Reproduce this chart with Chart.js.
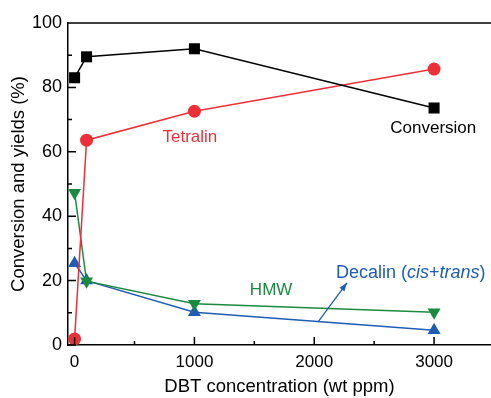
<!DOCTYPE html>
<html>
<head>
<meta charset="utf-8">
<script src="https://cdn.jsdelivr.net/npm/chart.js@4.4.0/dist/chart.umd.min.js"></script>
<style>
  html, body { margin: 0; padding: 0; background: #fff; }
  #wrap { width: 491px; height: 398px; }
</style>
</head>
<body>
<div id="wrap"><canvas id="grafico" width="491" height="398"></canvas></div>
<script>
  // datos
  const dbtPpm = [0, 100, 1000, 3000];
  const conversion = [83, 89.5, 92, 73.6];
  const tetralin = [1.9, 63.6, 72.6, 85.7];
  const hmw = [47.3, 19.8, 12.8, 10.2];
  const decalin = [25.4, 20.0, 10.2, 4.6];
  const xTicks = [0, 1000, 2000, 3000];
  const xMinor = [500, 1500, 2500];
  const yTicks = [0, 20, 40, 60, 80, 100];
  const yMinor = [10, 30, 50, 70, 90];

  const NEGRO = '#000000';
  const ROJO = '#ec3038';
  const VERDE = '#1c8a3e';
  const AZUL = '#1f5db3';
  const FUENTE = '"Liberation Sans", Arial, sans-serif';

  function serie(label, ys, color, estilo, radio, rot) {
    return {
      label: label,
      data: dbtPpm.map((x, i) => ({ x: x, y: ys[i] })),
      showLine: true,
      borderColor: color,
      backgroundColor: color,
      borderWidth: 1.5,
      pointStyle: estilo,
      pointRadius: radio,
      pointRotation: rot || 0,
      pointBorderWidth: 0,
      pointBackgroundColor: color
    };
  }

  // marcas hacia adentro, borde superior y anotaciones
  const extras = {
    id: 'extras',
    afterDraw(chart) {
      const ctx = chart.ctx;
      const a = chart.chartArea;
      const sx = chart.scales.x, sy = chart.scales.y;
      ctx.save();
      ctx.strokeStyle = '#000';
      ctx.lineWidth = 1.5;
      ctx.beginPath();
      ctx.moveTo(a.left, a.top);
      ctx.lineTo(chart.width, a.top);
      xTicks.forEach(v => { const p = sx.getPixelForValue(v); ctx.moveTo(p, a.bottom); ctx.lineTo(p, a.bottom - 8); });
      xMinor.forEach(v => { const p = sx.getPixelForValue(v); ctx.moveTo(p, a.bottom); ctx.lineTo(p, a.bottom - 4); });
      yTicks.forEach(v => { const p = sy.getPixelForValue(v); ctx.moveTo(a.left, p); ctx.lineTo(a.left + 8, p); });
      yMinor.forEach(v => { const p = sy.getPixelForValue(v); ctx.moveTo(a.left, p); ctx.lineTo(a.left + 4, p); });
      ctx.stroke();

      ctx.font = '17px ' + FUENTE;
      ctx.textBaseline = 'middle';
      ctx.textAlign = 'center';
      ctx.fillStyle = ROJO;
      ctx.fillText('Tetralin', sx.getPixelForValue(962), sy.getPixelForValue(64.6));
      ctx.fillStyle = NEGRO;
      ctx.fillText('Conversion', sx.getPixelForValue(2993), sy.getPixelForValue(67.4));
      ctx.fillStyle = VERDE;
      ctx.fillText('HMW', sx.getPixelForValue(1640), sy.getPixelForValue(17));

      // Decalin (cis+trans)
      ctx.fillStyle = AZUL;
      ctx.textAlign = 'left';
      let px = sx.getPixelForValue(2181);
      const py = sy.getPixelForValue(22.5);
      const partes = [['Decalin (', false], ['cis', true], ['+', false], ['trans', true], [')', false]];
      partes.forEach(([t, it]) => {
        ctx.font = (it ? 'italic ' : '') + '18px ' + FUENTE;
        ctx.fillText(t, px, py);
        px += ctx.measureText(t).width;
      });

      // flecha
      const x0 = sx.getPixelForValue(2032), y0 = sy.getPixelForValue(7.2);
      const x1 = sx.getPixelForValue(2273), y1 = sy.getPixelForValue(19.3);
      ctx.strokeStyle = AZUL;
      ctx.lineWidth = 1.3;
      ctx.beginPath();
      ctx.moveTo(x0, y0);
      ctx.lineTo(x1, y1);
      ctx.stroke();
      const ang = Math.atan2(y1 - y0, x1 - x0);
      ctx.beginPath();
      ctx.moveTo(x1, y1);
      ctx.lineTo(x1 - 9 * Math.cos(ang - 0.35), y1 - 9 * Math.sin(ang - 0.35));
      ctx.lineTo(x1 - 9 * Math.cos(ang + 0.35), y1 - 9 * Math.sin(ang + 0.35));
      ctx.closePath();
      ctx.fill();
      ctx.restore();
    }
  };

  new Chart(document.getElementById('grafico').getContext('2d'), {
    type: 'scatter',
    data: {
      datasets: [
        serie('Conversion', conversion, NEGRO, 'rect', 7.8),
        serie('Tetralin', tetralin, ROJO, 'circle', 6.5),
        serie('HMW', hmw, VERDE, 'triangle', 7.5, 180),
        serie('Decalin', decalin, AZUL, 'triangle', 7.5)
      ]
    },
    options: {
      responsive: false,
      animation: false,
      layout: { autoPadding: false, padding: { left: 0, right: 0, top: 23, bottom: 0 } },
      plugins: { legend: { display: false }, tooltip: { enabled: false } },
      scales: {
        x: {
          type: 'linear',
          min: -55,
          max: 3475,
          afterBuildTicks: s => { s.ticks = xTicks.map(v => ({ value: v })); },
          afterFit: s => { s.height = 53; },
          grid: { display: false, drawTicks: false },
          border: { display: true, color: '#000', width: 1.5 },
          ticks: { color: '#000', padding: 7, callback: v => String(v), font: { size: 17, family: FUENTE } },
          title: { display: true, text: 'DBT concentration (wt ppm)', color: '#000', padding: { top: 0, bottom: 0 }, font: { size: 18.5, family: FUENTE } }
        },
        y: {
          min: 0,
          max: 100,
          afterBuildTicks: s => { s.ticks = yTicks.map(v => ({ value: v })); },
          afterFit: s => { s.width = 68; },
          grid: { display: false, drawTicks: false },
          border: { display: true, color: '#000', width: 1.5 },
          ticks: { color: '#000', padding: 6, font: { size: 18, family: FUENTE } },
          title: { display: true, text: 'Conversion and yields (%)', color: '#000', padding: { top: 8, bottom: 0 }, font: { size: 18.5, family: FUENTE } }
        }
      }
    },
    plugins: [extras]
  });
</script>
</body>
</html>
